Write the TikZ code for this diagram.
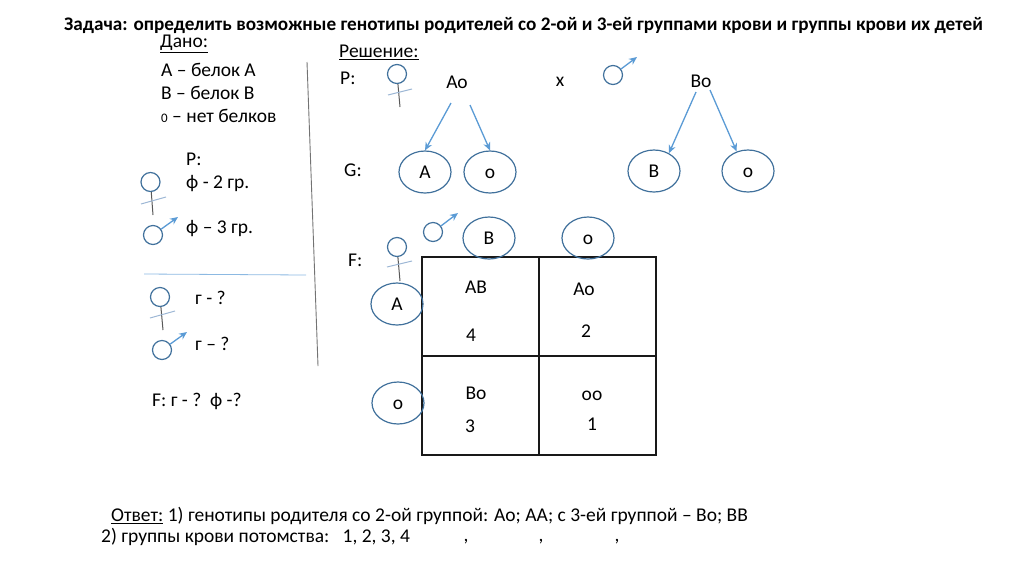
\documentclass[tikz,border=0pt]{standalone}
\usepackage{fontspec}
\setmainfont{Carlito}
\usepackage{xcolor}
\usetikzlibrary{shapes.geometric, arrows.meta, positioning, calc}
\definecolor{ringblue}{HTML}{41719C}
\definecolor{arrowblue}{HTML}{5B9BD5}
\definecolor{crossblue}{HTML}{9DB7D5}
\tikzstyle{txt} = [anchor=west, inner sep=0pt, font=\fontsize{19.5}{22}\selectfont, text=black]
\tikzstyle{lbl} = [inner sep=0pt, font=\fontsize{19.5}{22}\selectfont, text=black]
\tikzstyle{gamete} = [ellipse, draw=ringblue, line width=1.2pt, minimum width=52pt, minimum height=42pt, inner sep=0pt, text height=12pt, text depth=0pt, font=\fontsize{19.5}{22}\selectfont]
\tikzstyle{ring} = [circle, draw=ringblue, line width=1.2pt, minimum size=19pt, inner sep=0pt]
\tikzstyle{stem} = [draw=black!65, line width=1pt]
\tikzstyle{bar} = [draw=crossblue, line width=1pt]
\tikzstyle{arrow} = [draw=arrowblue, line width=1.3pt, -{Stealth[length=8pt,width=7pt]}, fill=arrowblue]
\tikzstyle{grid} = [draw=black!90, line width=1.4pt]
\begin{document}
\begin{tikzpicture}[x=1pt, y=-1pt]
        \useasboundingbox (0,0) rectangle (1024,574);
        \node (title) [lbl, font=\fontsize{19.2}{22}\selectfont\bfseries] at (523.5,25) {Задача: определить возможные генотипы родителей со 2-ой и 3-ей группами крови и группы крови их детей};

        % given
        \node (dano) [txt] at (160,44) {\underline{Дано:}};
        \node (t1) [txt] at (161,70) {А – белок А};
        \node (t2) [txt] at (161,93) {В – белок В};
        \node (t3) [txt] at (161,116) {{\fontsize{13}{15}\selectfont 0} – нет белков};
        \node (t4) [txt] at (186,159) {Р:};
        \node (t5) [txt] at (186,184) {ф - 2 гр.};
        \node (t6) [txt] at (186,229) {ф – 3 гр.};
        \node (t7) [txt] at (195,298) {г - ?};
        \node (t8) [txt] at (195,344) {г – ?};
        \node (t9) [txt] at (152,401) {F: г - ?~~ф -?};

        \coordinate (div1) at (307,62);
        \coordinate (div2) at (318,366);
        \draw [draw=black!55, line width=0.9pt] (div1) -- (div2);
        \coordinate (hr1) at (144,274);
        \coordinate (hr2) at (306,275);
        \draw [draw=arrowblue!70, line width=0.8pt] (hr1) -- (hr2);

        % symbols
        \node (f1) [ring] at (150.5,182) {};
        \coordinate (f1s) at (153,215);
        \coordinate (f1a) at (141,204);
        \coordinate (f1b) at (166,197);
        \draw [stem] (f1) -- (f1s);
        \draw [bar] (f1a) -- (f1b);
        \node (m1) [ring] at (153,235) {};
        \coordinate (m1t) at (178,217);
        \draw [arrow] (m1) -- (m1t);

        \node (f2) [ring] at (160,297) {};
        \coordinate (f2s) at (163,330);
        \coordinate (f2a) at (150,318);
        \coordinate (f2b) at (175,311);
        \draw [stem] (f2) -- (f2s);
        \draw [bar] (f2a) -- (f2b);
        \node (m2) [ring] at (162,350) {};
        \coordinate (m2t) at (187,332);
        \draw [arrow] (m2) -- (m2t);

        \node (f3) [ring] at (397,74) {};
        \coordinate (f3s) at (400,107);
        \coordinate (f3a) at (388,95);
        \coordinate (f3b) at (412,89);
        \draw [stem] (f3) -- (f3s);
        \draw [bar] (f3a) -- (f3b);
        \node (m3) [ring] at (613,75) {};
        \coordinate (m3t) at (637,57);
        \draw [arrow] (m3) -- (m3t);

        \node (f4) [ring] at (397,247) {};
        \coordinate (f4s) at (400,281);
        \coordinate (f4a) at (387,267);
        \coordinate (f4b) at (412,261);
        \draw [stem] (f4) -- (f4s);
        \draw [bar] (f4a) -- (f4b);
        \node (m4) [ring] at (433,232) {};
        \coordinate (m4t) at (458,213);
        \draw [arrow] (m4) -- (m4t);

        % solution
        \node (resh) [txt] at (339,52) {\underline{Решение:}};
        \node (lp) [txt] at (340,78) {Р:};
        \node (lg) [txt] at (344,170) {G:};
        \node (lf) [txt] at (348,260) {F:};
        \node (ao) [lbl] at (457,82) {Ао};
        \node (x) [lbl] at (560,82) {х};
        \node (bo) [lbl] at (701,81) {Во};

        \node (ga) [gamete] at (425,172) {А};
        \node (go) [gamete] at (490,172) {о};
        \node (gb) [gamete] at (654,171) {В};
        \node (gz) [gamete] at (748,171) {о};
        \coordinate (ao1) at (451,103);
        \coordinate (ao2) at (470,105);
        \coordinate (bo1) at (696,92);
        \coordinate (bo2) at (710,90);
        \draw [arrow] (ao1) -- (ga.north);
        \draw [arrow] (ao2) -- (go.north);
        \draw [arrow] (bo1) -- (gb.50);
        \draw [arrow] (bo2) -- (gz.120);

        % punnett square
        \node (sq) [grid, rectangle, draw, minimum width=234pt, minimum height=198pt, inner sep=0pt] at (539,356) {};
        \coordinate (sqn) at (539,257);
        \coordinate (sqs) at (539,455);
        \coordinate (sqw) at (422,356);
        \coordinate (sqe) at (656,356);
        \draw [grid] (sqn) -- (sqs);
        \draw [grid] (sqw) -- (sqe);

        \node (hb) [gamete] at (489,238) {В};
        \node (ho) [gamete] at (588,238) {о};
        \node (ha) [gamete] at (397,304) {А};
        \node (hz) [gamete] at (398,403) {о};

        \node (c1) [lbl] at (476,287) {АВ};
        \node (n1) [lbl] at (471,335) {4};
        \node (c2) [lbl] at (584,289) {Ао};
        \node (n2) [lbl] at (586,331) {2};
        \node (c3) [lbl] at (476,393) {Во};
        \node (n3) [lbl] at (470,426) {3};
        \node (c4) [lbl] at (592,396) {оо};
        \node (n4) [lbl] at (592,424) {1};

        % answer
        \node (ans1) [txt] at (111,516) {\underline{Ответ:} 1) генотипы родителя со 2-ой группой: Ао; АА; с 3-ей группой – Во; ВВ};
        \node (ans2) [txt] at (101,537) {2) группы крови потомства:~~~1, 2, 3, 4};
        \node (cm1) [lbl] at (466,542) {,};
        \node (cm2) [lbl] at (541,542) {,};
        \node (cm3) [lbl] at (617,542) {,};
    \end{tikzpicture}
\end{document}
